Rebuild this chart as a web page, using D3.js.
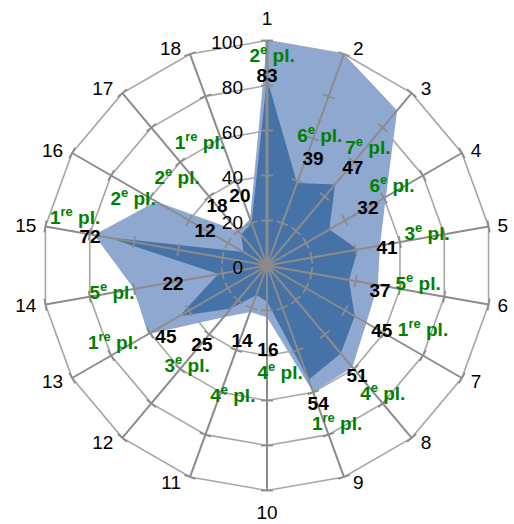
<!DOCTYPE html>
<html>
<head>
<meta charset="utf-8">
<script src="https://cdn.jsdelivr.net/npm/d3@7/dist/d3.min.js"></script>
<style>
  body { margin: 0; background: #fff; }
  svg { display: block; font-family: "Liberation Sans", Arial, sans-serif; }
</style>
</head>
<body>
<div id="chart"></div>
<script>
// categories (axes) and the two series
const categories = ['1', '2', '3', '4', '5', '6', '7', '8', '9', '10', '11', '12', '13', '14', '15', '16', '17', '18']
const scores = [83, 39, 47, 32, 41, 37, 45, 51, 54, 16, 14, 25, 45, 22, 72, 12, 18, 20]
const best = [100, 100, 90, 61, 51, 50, 51, 59, 60, 23, 22, 30, 61, 60, 78, 57, 20, 22]
const ranks = [2, 6, 7, 6, 3, 5, 1, 4, 1, 4, 4, 3, 1, 5, 1, 2, 2, 1]
const ticks = [0, 20, 40, 60, 80, 100]

// where the annotations sit: [value, category slot]
const scoreLabelAt = [[84.7, 0], [52, 1.16], [58.1, 2.05], [51.7, 3.01], [53.9, 4.08], [51.4, 5.11],
    [58.6, 5.97], [63, 7.03], [65.2, 7.98], [37.1, 8.97], [34.9, 9.93], [45.6, 10.97],
    [55, 11.74], [42.5, 12.97], [79.7, 13.96], [31.7, 14.99], [34.9, 16.02], [33.6, 16.95]]
const rankLabelAt = [[93.6, 0.07], [62.6, 1.10], [69.2, 2.02], [66.1, 2.86], [72.6, 3.93], [67.6, 4.83],
    [75, 5.62], [76.6, 6.89], [76.6, 7.80], [47.7, 8.65], [59.5, 9.74], [56.7, 10.94],
    [76.4, 12.18], [69.9, 13.01], [88, 14.21], [66.7, 14.84], [56.1, 15.73], [62.4, 16.57]]

const width = 514
const height = 524
const cx = 267
const cy = 265.5
const R = 225

const svg = d3.select('#chart').append('svg')
    .attr('width', width)
    .attr('height', height)
    .attr('viewBox', `0 0 ${width} ${height}`)

const g = svg.append('g').attr('transform', `translate(${cx}, ${cy})`)

const n = categories.length
const angle = d3.scaleLinear().domain([0, n]).range([0, 2 * Math.PI])
const rScale = d3.scaleLinear().domain([0, 100]).range([0, R])

const polar = (v, slot) => {
    const a = angle(slot)
    return [rScale(v) * Math.sin(a), -rScale(v) * Math.cos(a)]
}

const radar = d3.lineRadial()
    .angle((d, i) => angle(i))
    .radius(d => rScale(d))
    .curve(d3.curveLinearClosed)

// grid polygons
g.append('g')
    .selectAll('path')
    .data(ticks.filter(t => t > 0))
    .join('path')
    .attr('d', t => radar(categories.map(() => t)))
    .attr('fill', 'none')
    .attr('stroke', '#a6a6a6')
    .attr('stroke-width', 1.6)

// series areas
g.append('path')
    .datum(best)
    .attr('d', radar)
    .attr('fill', '#8fa8d0')

g.append('path')
    .datum(scores)
    .attr('d', radar)
    .attr('fill', '#4572a7')

// spokes with tick marks
const spokes = g.append('g')
    .selectAll('g')
    .data(categories)
    .join('g')
    .attr('transform', (d, i) => `rotate(${angle(i) * 180 / Math.PI})`)

spokes.append('line')
    .attr('x1', 0).attr('y1', 0)
    .attr('x2', 0).attr('y2', -rScale(100))
    .attr('stroke', '#8c8c8c')
    .attr('stroke-width', (d, i) => i === 0 ? 3 : 2)

spokes.selectAll('.tick')
    .data(ticks.filter(t => t > 0))
    .join('line')
    .attr('class', 'tick')
    .attr('x1', -6).attr('x2', 6)
    .attr('y1', t => -rScale(t)).attr('y2', t => -rScale(t))
    .attr('stroke', '#8c8c8c')
    .attr('stroke-width', 1.8)

// value axis labels
g.append('g')
    .selectAll('text')
    .data(ticks)
    .join('text')
    .attr('x', -24)
    .attr('y', t => -rScale(t) + 2)
    .attr('dy', '0.35em')
    .attr('text-anchor', 'end')
    .attr('font-size', 19)
    .attr('fill', '#000')
    .text(d => d)

// category labels
g.append('g')
    .selectAll('text')
    .data(categories)
    .join('text')
    .each(function (d, i) {
        const a = angle(i)
        const s = Math.sin(a), c = Math.cos(a)
        const [px, py] = polar(100, i)
        const t = d3.select(this)
        if (Math.abs(s) < 0.05) {
            t.attr('x', px).attr('y', py - c * 22).attr('text-anchor', 'middle')
        } else {
            t.attr('x', px + (s > 0 ? 9 : -9)).attr('y', py - c * 6)
                .attr('text-anchor', s > 0 ? 'start' : 'end')
        }
    })
    .attr('dy', '0.35em')
    .attr('font-size', 19)
    .attr('fill', '#000')
    .text(d => d)

// score labels
g.append('g')
    .selectAll('text')
    .data(scores)
    .join('text')
    .attr('x', (d, i) => polar(...scoreLabelAt[i])[0])
    .attr('y', (d, i) => polar(...scoreLabelAt[i])[1])
    .attr('dy', '0.35em')
    .attr('text-anchor', 'middle')
    .attr('font-size', 19)
    .attr('font-weight', 'bold')
    .attr('fill', '#000')
    .text(d => d)

// rank labels
const rankText = g.append('g')
    .selectAll('text')
    .data(ranks)
    .join('text')
    .attr('x', (d, i) => polar(...rankLabelAt[i])[0])
    .attr('y', (d, i) => polar(...rankLabelAt[i])[1])
    .attr('dy', '0.35em')
    .attr('text-anchor', 'middle')
    .attr('font-size', 19)
    .attr('font-weight', 'bold')
    .attr('fill', '#008000')

rankText.append('tspan').text(d => d)
rankText.append('tspan')
    .attr('dy', -8)
    .attr('font-size', 13)
    .text(d => d === 1 ? 're' : 'e')
rankText.append('tspan')
    .attr('dy', 8)
    .text(' pl.')
</script>
</body>
</html>
